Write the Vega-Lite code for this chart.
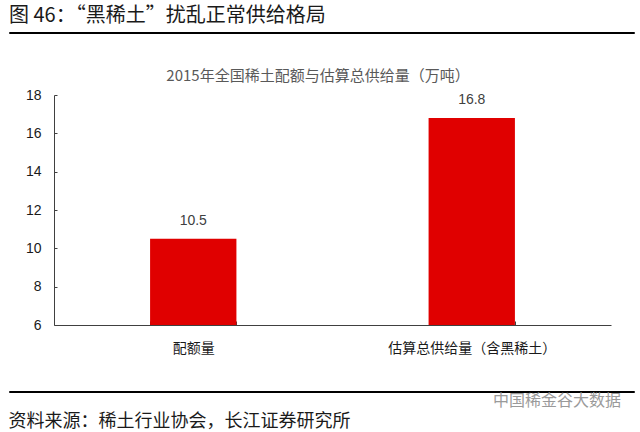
{
  "$schema": "https://vega.github.io/schema/vega-lite/v6.json",
  "padding": {"left": 8, "top": 5, "right": 0, "bottom": 0},
  "background": "white",
  "spacing": 35,
  "config": {
    "view": {"stroke": null},
    "font": "Noto Sans CJK SC"
  },
  "title": {
    "text": "资料来源：稀土行业协会，长江证券研究所",
    "orient": "bottom",
    "anchor": "start",
    "fontSize": 18,
    "fontWeight": "normal",
    "color": "#1a1a1a",
    "font": "Noto Sans CJK SC",
    "offset": 3
  },
  "vconcat": [
    {
      "width": 625,
      "height": 1,
      "view": {"stroke": "#000000", "strokeWidth": 1},
      "title": {
        "text": "图 46：“黑稀土”扰乱正常供给格局",
        "anchor": "start",
        "fontSize": 20,
        "fontWeight": "normal",
        "color": "#1a1a1a",
        "font": "Noto Sans CJK SC",
        "offset": 6
      },
      "data": {"values": []},
      "mark": "text"
    },
    {
      "width": 602,
      "height": 230,
      "title": {
        "text": "2015年全国稀土配额与估算总供给量（万吨）",
        "anchor": "middle",
        "frame": "group",
        "dx": 8,
        "fontSize": 15,
        "fontWeight": "normal",
        "color": "#595959",
        "font": "Noto Sans CJK SC",
        "offset": 4
      },
      "data": {
        "values": [
          {"category": "配额量", "value": 10.5, "base": 6},
          {"category": "估算总供给量（含黑稀土）", "value": 16.8, "base": 6}
        ]
      },
      "encoding": {
        "x": {
          "field": "category",
          "type": "nominal",
          "sort": null,
          "scale": {"range": [45, 602], "paddingInner": 0.69, "paddingOuter": 0.345},
          "axis": {
            "title": null,
            "labelAngle": 0,
            "labelFontSize": 14,
            "labelFont": "Noto Sans CJK SC",
            "labelColor": "#1a1a1a",
            "labelPadding": 20,
            "tickBand": "extent",
            "tickSize": -4,
            "tickColor": "#404040",
            "domainColor": "#404040"
          }
        },
        "y": {
          "field": "value",
          "type": "quantitative",
          "scale": {"domain": [6, 18], "nice": false, "zero": false},
          "axis": {
            "title": null,
            "values": [6, 8, 10, 12, 14, 16, 18],
            "grid": false,
            "offset": -45,
            "labelFontSize": 14,
            "labelFont": "Liberation Sans",
            "labelColor": "#1a1a1a",
            "labelPadding": 16,
            "tickSize": -3,
            "tickColor": "#404040",
            "domainColor": "#404040"
          }
        }
      },
      "layer": [
        {
          "mark": {"type": "bar", "color": "#e00000"},
          "encoding": {"y2": {"field": "base"}}
        },
        {
          "mark": {
            "type": "text",
            "dy": -18,
            "fontSize": 14,
            "font": "Liberation Sans",
            "color": "#404040"
          },
          "encoding": {"text": {"field": "value", "type": "quantitative", "format": ".1f"}}
        }
      ]
    },
    {
      "width": 625,
      "height": 1,
      "view": {"stroke": "#000000", "strokeWidth": 1},
      "title": {
        "text": "中国稀金谷大数据",
        "orient": "bottom",
        "anchor": "end",
        "dx": -13,
        "fontSize": 16,
        "fontWeight": "normal",
        "color": "#9a9a9a",
        "font": "Noto Sans CJK SC",
        "offset": 1
      },
      "data": {"values": []},
      "mark": "text"
    }
  ]
}
